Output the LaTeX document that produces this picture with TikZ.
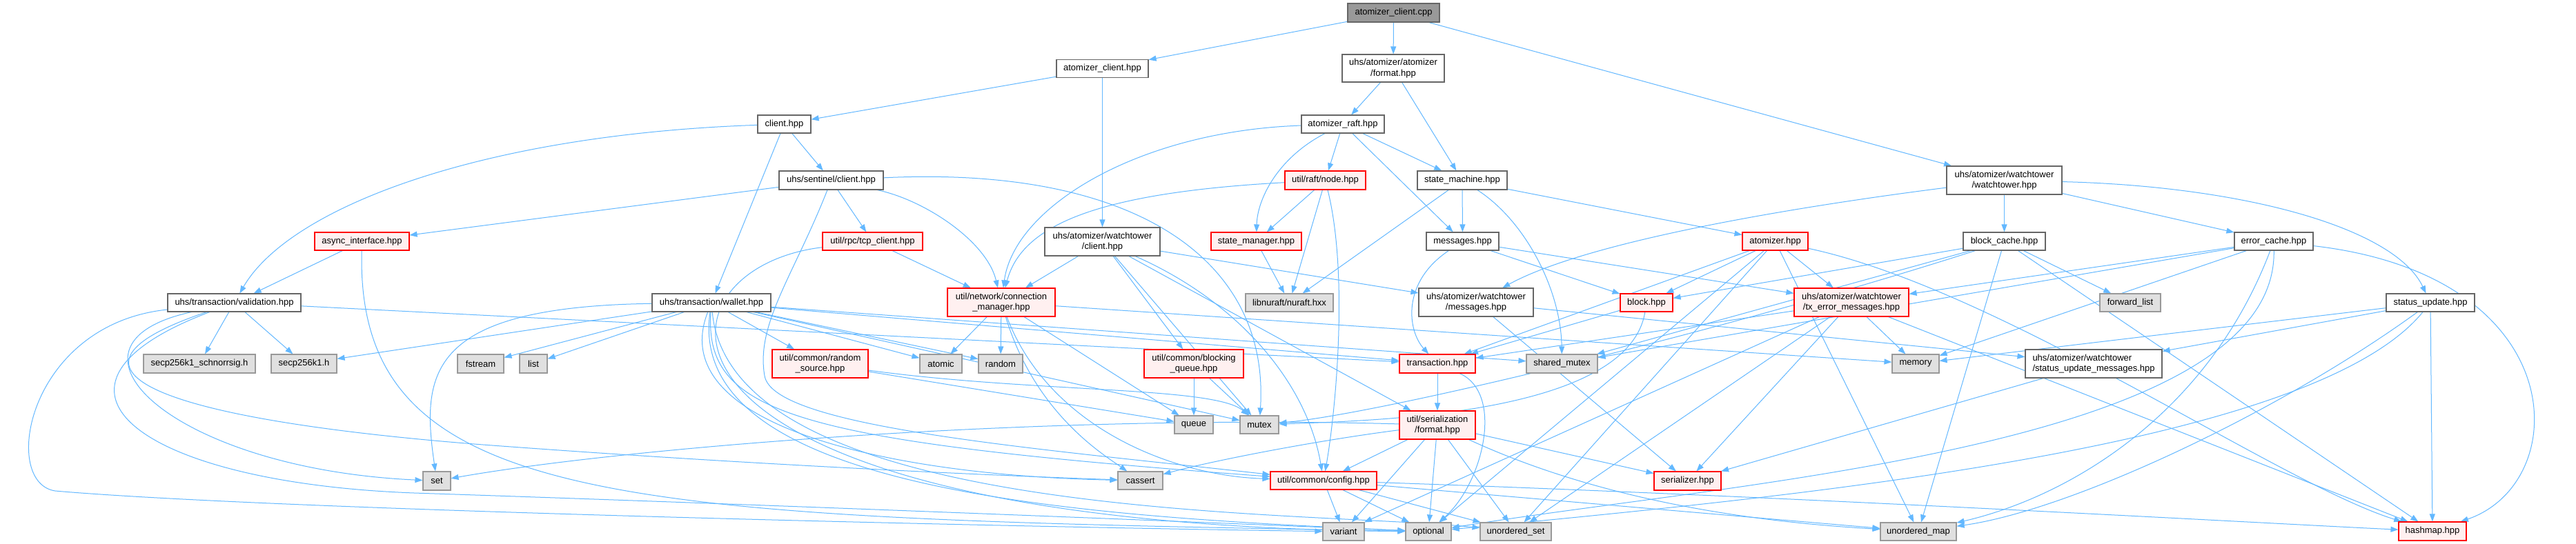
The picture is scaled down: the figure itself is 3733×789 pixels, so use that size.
\documentclass[tikz,border=0pt]{standalone}
\usepackage{fontspec}
\setmainfont{Liberation Sans}
\usetikzlibrary{arrows.meta,backgrounds}
\definecolor{edgeblue}{HTML}{63B8FF}
\definecolor{bordergray}{HTML}{666666}
\definecolor{redborder}{HTML}{FF0000}
\definecolor{pinkfill}{HTML}{FFF0F0}
\definecolor{sysfill}{HTML}{E0E0E0}
\definecolor{sysborder}{HTML}{999999}
\definecolor{rootfill}{HTML}{999999}
\tikzset{
 nb/.style={draw=bordergray, fill=white, line width=1.1pt, inner sep=0pt, align=center, font=\fontsize{13}{15.5}\selectfont, text=black},
 nr/.style={nb, draw=redborder, fill=pinkfill},
 ns/.style={nb, draw=sysborder, fill=sysfill},
 nroot/.style={nb, fill=rootfill},
 edg/.style={draw=edgeblue, line width=1pt, -{Triangle[length=11pt,width=8pt]}},
}
\begin{document}
\begin{tikzpicture}[x=1pt,y=-1pt]
\useasboundingbox (0,0) rectangle (3733,789);
% row 0
\node[nroot, minimum width=133pt, minimum height=27pt] (root) at (2019.5,18.5) {atomizer\_client.cpp};
% row 1
\node[nb, minimum width=133pt, minimum height=26pt] (achpp) at (1597.5,99.5) {atomizer\_client.hpp};
\node[nb, minimum width=148pt, minimum height=40pt] (afmt) at (2019,99) {uhs/atomizer/atomizer\\/format.hpp};
% row 2
\node[nb, minimum width=77pt, minimum height=26pt] (client) at (1136.5,180) {client.hpp};
\node[nb, minimum width=120pt, minimum height=26pt] (raft) at (1946,180) {atomizer\_raft.hpp};
% row 3
\node[nb, minimum width=151pt, minimum height=27pt] (sentinel) at (1204.5,261.5) {uhs/sentinel/client.hpp};
\node[nr, minimum width=117pt, minimum height=27pt] (rnode) at (1920.5,261.5) {util/raft/node.hpp};
\node[nb, minimum width=130pt, minimum height=27pt] (smach) at (2119,261.5) {state\_machine.hpp};
\node[nb, minimum width=167pt, minimum height=41pt] (wt) at (2904.5,261.5) {uhs/atomizer/watchtower\\/watchtower.hpp};
% row 4
\node[nr, minimum width=137pt, minimum height=26pt] (async) at (524.5,350) {async\_interface.hpp};
\node[nr, minimum width=145pt, minimum height=26pt] (tcp) at (1264.5,350) {util/rpc/tcp\_client.hpp};
\node[nb, minimum width=167pt, minimum height=41pt] (wtclient) at (1597.5,350.5) {uhs/atomizer/watchtower\\/client.hpp};
\node[nr, minimum width=131pt, minimum height=26pt] (stmgr) at (1820.5,350) {state\_manager.hpp};
\node[nb, minimum width=105pt, minimum height=26pt] (msgs) at (2119.5,350) {messages.hpp};
\node[nr, minimum width=95pt, minimum height=26pt] (atomizer) at (2572.5,350) {atomizer.hpp};
\node[nb, minimum width=119pt, minimum height=26pt] (bcache) at (2904.5,350) {block\_cache.hpp};
\node[nb, minimum width=114pt, minimum height=26pt] (ecache) at (3295,350) {error\_cache.hpp};
% row 5
\node[nb, minimum width=193pt, minimum height=26pt] (valid) at (339.5,439) {uhs/transaction/validation.hpp};
\node[nb, minimum width=172pt, minimum height=26pt] (wallet) at (1031,439) {uhs/transaction/wallet.hpp};
\node[nr, minimum width=156pt, minimum height=41pt] (connmgr) at (1451,438.5) {util/network/connection\\\_manager.hpp};
\node[ns, minimum width=127pt, minimum height=26pt] (nuraft) at (1868.5,439) {libnuraft/nuraft.hxx};
\node[nb, minimum width=166pt, minimum height=41pt] (wtmsgs) at (2139,438.5) {uhs/atomizer/watchtower\\/messages.hpp};
\node[nr, minimum width=76pt, minimum height=26pt] (block) at (2386,439) {block.hpp};
\node[nr, minimum width=166pt, minimum height=41pt] (txerr) at (2683,438.5) {uhs/atomizer/watchtower\\/tx\_error\_messages.hpp};
\node[ns, minimum width=88pt, minimum height=26pt] (fwdlist) at (3087,439) {forward\_list};
\node[nb, minimum width=128pt, minimum height=26pt] (supd) at (3522,439) {status\_update.hpp};
% row 6
\node[ns, minimum width=162pt, minimum height=27pt] (schnorr) at (289,527.5) {secp256k1\_schnorrsig.h};
\node[ns, minimum width=95pt, minimum height=27pt] (secp) at (440.5,527.5) {secp256k1.h};
\node[ns, minimum width=67pt, minimum height=27pt] (fstream) at (696.5,527.5) {fstream};
\node[ns, minimum width=40pt, minimum height=27pt] (lst) at (773,527.5) {list};
\node[nr, minimum width=139pt, minimum height=41pt] (randsrc) at (1188.5,527.5) {util/common/random\\\_source.hpp};
\node[ns, minimum width=61pt, minimum height=27pt] (atomic) at (1363.5,527.5) {atomic};
\node[ns, minimum width=64pt, minimum height=27pt] (randomh) at (1450,527.5) {random};
\node[nr, minimum width=144pt, minimum height=41pt] (bq) at (1730,527.5) {util/common/blocking\\\_queue.hpp};
\node[nr, minimum width=110pt, minimum height=27pt] (trans) at (2083,527.5) {transaction.hpp};
\node[ns, minimum width=103pt, minimum height=27pt] (shmutex) at (2263.5,527.5) {shared\_mutex};
\node[ns, minimum width=68pt, minimum height=27pt] (memory) at (2776,527.5) {memory};
\node[nb, minimum width=198pt, minimum height=41pt, align=left] (sum) at (3034,527.5) {uhs/atomizer/watchtower\\/status\_update\_messages.hpp};
% row 7
\node[ns, minimum width=56pt, minimum height=26pt] (queue) at (1730,616) {queue};
\node[ns, minimum width=56pt, minimum height=26pt] (mutex) at (1825,616) {mutex};
\node[nr, minimum width=110pt, minimum height=41pt] (sfmt) at (2083,616.5) {util/serialization\\/format.hpp};
% row 8
\node[ns, minimum width=40pt, minimum height=27pt] (seth) at (633,697.5) {set};
\node[ns, minimum width=65pt, minimum height=26pt] (cassert) at (1652.5,697) {cassert};
\node[nr, minimum width=154pt, minimum height=26pt] (config) at (1918,697) {util/common/config.hpp};
\node[nr, minimum width=97pt, minimum height=27pt] (serializer) at (2445.5,697.5) {serializer.hpp};
% row 9
\node[ns, minimum width=60pt, minimum height=26pt] (variant) at (1947,771) {variant};
\node[ns, minimum width=66pt, minimum height=26pt] (optional) at (2070,771) {optional};
\node[ns, minimum width=103pt, minimum height=26pt] (uset) at (2196.5,771) {unordered\_set};
\node[ns, minimum width=110pt, minimum height=26pt] (umap) at (2780,771) {unordered\_map};
\node[nr, minimum width=98pt, minimum height=27pt] (hashmap) at (3525,770.5) {hashmap.hpp};

\begin{scope}[on background layer]
\fill[white] (0,0) rectangle (3733,789);
% top
\draw[edg] (root) -- (achpp);
\draw[edg] (root) -- (afmt);
\draw[edg] (root) -- (wt);
\draw[edg] (achpp) -- (client);
\draw[edg] (achpp) -- (wtclient);
\draw[edg] (afmt) -- (raft);
\draw[edg] (afmt) -- (smach);
\draw[edg] (wt) -- (bcache);
\draw[edg] (wt) -- (ecache);
\draw[edg] (wt) .. controls (3250,270) and (3470,330) .. (supd);
\draw[edg] (wt) .. controls (2600,300) and (2300,350) .. (wtmsgs);
% client
\draw[edg] (client) -- (sentinel);
\draw[edg] (client) .. controls (700,195) and (420,300) .. (valid);
\draw[edg] (client) -- (wallet);
% raft
\draw[edg] (raft) -- (rnode);
\draw[edg] (raft) -- (smach);
\draw[edg] (raft) -- (msgs);
\draw[edg] (raft) .. controls (1850,230) and (1822,290) .. (stmgr);
\draw[edg] (raft) .. controls (1650,190) and (1470,300) .. (connmgr);
% node
\draw[edg] (rnode) .. controls (1580,280) and (1480,330) .. (connmgr);
\draw[edg] (rnode) -- (stmgr);
\draw[edg] (rnode) -- (nuraft);
\draw[edg] (rnode) .. controls (1955,400) and (1935,600) .. (config);
% state machine
\draw[edg] (smach) -- (msgs);
\draw[edg] (smach) -- (atomizer);
\draw[edg] (smach) -- (nuraft);
\draw[edg] (smach) .. controls (2210,320) and (2262,420) .. (shmutex);
\draw[edg] (stmgr) -- (nuraft);
% sentinel
\draw[edg] (sentinel) -- (async);
\draw[edg] (sentinel) -- (tcp);
\draw[edg] (sentinel) .. controls (1340,290) and (1430,350) .. (connmgr);
\draw[edg] (sentinel) .. controls (1150,400) and (1095,470) .. (1108,545) .. controls (1120,620) and (1500,650) .. (config);
\draw[edg] (sentinel) .. controls (1650,240) and (1840,380) .. (mutex);
% async, tcp
\draw[edg] (async) -- (valid);
\draw[edg] (async) .. controls (515,740) and (900,750) .. (optional);
\draw[edg] (tcp) -- (connmgr);
\draw[edg] (tcp) .. controls (930,390) and (880,760) .. (optional);
% watchtower client
\draw[edg] (wtclient) -- (connmgr);
\draw[edg] (wtclient) -- (bq);
\draw[edg] (wtclient) .. controls (1800,440) and (1895,560) .. (config);
\draw[edg] (wtclient) -- (mutex);
\draw[edg] (wtclient) -- (sfmt);
\draw[edg] (wtclient) -- (wtmsgs);
% messages
\draw[edg] (msgs) .. controls (2030,410) and (2040,480) .. (trans);
\draw[edg] (msgs) -- (block);
\draw[edg] (msgs) -- (txerr);
% atomizer
\draw[edg] (atomizer) -- (block);
\draw[edg] (atomizer) -- (trans);
\draw[edg] (atomizer) -- (txerr);
\draw[edg] (atomizer) -- (optional);
\draw[edg] (atomizer) -- (uset);
\draw[edg] (atomizer) -- (umap);
\draw[edg] (atomizer) .. controls (2900,420) and (3300,700) .. (hashmap);
% block cache
\draw[edg] (bcache) -- (block);
\draw[edg] (bcache) -- (fwdlist);
\draw[edg] (bcache) -- (shmutex);
\draw[edg] (bcache) .. controls (2500,480) and (2000,600) .. (mutex);
\draw[edg] (bcache) -- (umap);
\draw[edg] (bcache) -- (hashmap);
% error cache
\draw[edg] (ecache) -- (txerr);
\draw[edg] (ecache) -- (memory);
\draw[edg] (ecache) -- (shmutex);
\draw[edg] (ecache) .. controls (3200,600) and (3000,720) .. (umap);
\draw[edg] (ecache) .. controls (3730,400) and (3730,700) .. (hashmap);
\draw[edg] (ecache) .. controls (3300,650) and (2500,700) .. (optional);
% status update
\draw[edg] (supd) -- (sum);
\draw[edg] (supd) -- (memory);
\draw[edg] (supd) .. controls (3300,600) and (3000,740) .. (umap);
\draw[edg] (supd) -- (hashmap);
\draw[edg] (supd) .. controls (3350,650) and (2600,720) .. (optional);
% tx error messages
\draw[edg] (txerr) -- (trans);
\draw[edg] (txerr) -- (serializer);
\draw[edg] (txerr) -- (memory);
\draw[edg] (txerr) -- (variant);
\draw[edg] (txerr) -- (uset);
\draw[edg] (txerr) -- (hashmap);
% block, wt messages
\draw[edg] (block) -- (trans);
\draw[edg] (block) .. controls (2360,600) and (2000,610) .. (mutex);
\draw[edg] (wtmsgs) -- (serializer);
\draw[edg] (wtmsgs) -- (sum);
\draw[edg] (sum) -- (serializer);
% transaction, format
\draw[edg] (trans) -- (sfmt);
\draw[edg] (trans) .. controls (2180,570) and (2150,700) .. (optional);
\draw[edg] (sfmt) -- (serializer);
\draw[edg] (sfmt) -- (config);
\draw[edg] (sfmt) -- (variant);
\draw[edg] (sfmt) -- (optional);
\draw[edg] (sfmt) -- (uset);
\draw[edg] (sfmt) .. controls (2350,740) and (2600,760) .. (umap);
\draw[edg] (sfmt) .. controls (1500,600) and (900,650) .. (seth);
\draw[edg] (sfmt) .. controls (1900,640) and (1750,670) .. (cassert);
% config
\draw[edg] (config) -- (variant);
\draw[edg] (config) -- (optional);
\draw[edg] (config) -- (uset);
\draw[edg] (config) -- (umap);
\draw[edg] (config) .. controls (2600,720) and (3300,760) .. (hashmap);
% connection manager
\draw[edg] (connmgr) -- (atomic);
\draw[edg] (connmgr) -- (randomh);
\draw[edg] (connmgr) .. controls (1500,600) and (1600,660) .. (cassert);
\draw[edg] (connmgr) .. controls (1520,620) and (1700,690) .. (config);
\draw[edg] (connmgr) -- (queue);
\draw[edg] (connmgr) -- (memory);
% queues
\draw[edg] (bq) -- (queue);
\draw[edg] (bq) -- (mutex);
\draw[edg] (randsrc) -- (queue);
\draw[edg] (randsrc) .. controls (1500,570) and (1760,560) .. (mutex);
% wallet
\draw[edg] (wallet) -- (trans);
\draw[edg] (wallet) -- (secp);
\draw[edg] (wallet) -- (fstream);
\draw[edg] (wallet) -- (lst);
\draw[edg] (wallet) .. controls (620,445) and (610,540) .. (seth);
\draw[edg] (wallet) -- (randsrc);
\draw[edg] (wallet) -- (atomic);
\draw[edg] (wallet) -- (randomh);
\draw[edg] (wallet) -- (mutex);
\draw[edg] (wallet) -- (shmutex);
\draw[edg] (wallet) .. controls (1020,600) and (1150,640) .. (config);
\draw[edg] (wallet) .. controls (960,620) and (1300,690) .. (cassert);
\draw[edg] (wallet) .. controls (990,720) and (1600,750) .. (optional);
\draw[edg] (wallet) .. controls (1060,760) and (1900,740) .. (uset);
% validation
\draw[edg] (valid) -- (trans);
\draw[edg] (valid) -- (schnorr);
\draw[edg] (valid) -- (secp);
\draw[edg] (valid) .. controls (60,500) and (250,680) .. (seth);
\draw[edg] (valid) .. controls (40,470) and (0,700) .. (80,712) .. controls (400,740) and (1500,765) .. (variant);
\draw[edg] (valid) .. controls (40,540) and (250,610) .. (700,645) .. controls (1100,675) and (1450,690) .. (cassert);
\draw[edg] (valid) .. controls (20,560) and (200,700) .. (600,715) .. controls (1200,735) and (1800,760) .. (optional);
\end{scope}
\end{tikzpicture}
\end{document}
